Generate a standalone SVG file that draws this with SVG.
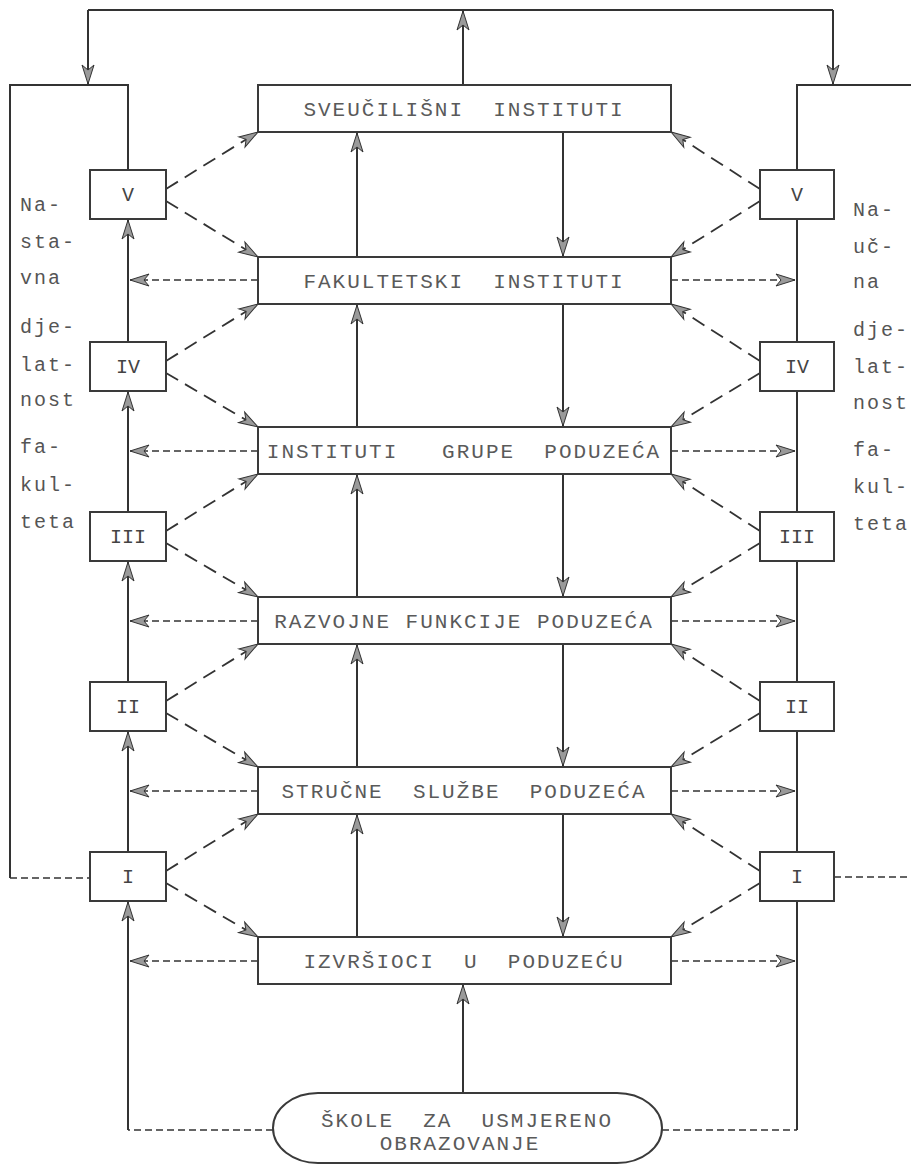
<svg xmlns="http://www.w3.org/2000/svg" width="911" height="1165" viewBox="0 0 911 1165">
<style>
.bx{fill:#fff;stroke:#3a3a3a;stroke-width:2}
.ln{fill:none;stroke:#333;stroke-width:2}
.dd{fill:none;stroke:#333;stroke-width:1.8;stroke-dasharray:14 8}
.dh{fill:none;stroke:#333;stroke-width:1.6;stroke-dasharray:7 4}
.t{font-family:"Liberation Mono","DejaVu Sans Mono",monospace;font-size:21px;letter-spacing:2px;fill:#5a5a5a;text-anchor:middle;white-space:pre}
.s{font-family:"Liberation Mono","DejaVu Sans Mono",monospace;font-size:20px;fill:#444;text-anchor:middle}
.lb{font-family:"Liberation Mono","DejaVu Sans Mono",monospace;font-size:20px;letter-spacing:2px;fill:#555}
</style>
<defs>
<marker id="ah" markerUnits="userSpaceOnUse" markerWidth="22" markerHeight="14" refX="19" refY="6.5" orient="auto" overflow="visible">
<path d="M0,0.5 L19,6.5 L0,12.5 L5,6.5 Z" fill="#9a9a9a" stroke="#333" stroke-width="1" stroke-dasharray="none"/>
</marker>
</defs>

<g id="connectors">
<path class="ln" d="M88,10 L833,10"/>
<path class="ln" d="M463,85 L463,11" marker-end="url(#ah)"/>
<path class="ln" d="M88,10 L88,84" marker-end="url(#ah)"/>
<path class="ln" d="M833,10 L833,84" marker-end="url(#ah)"/>
<path class="ln" d="M128,170 L128,85 L10,85 L10,878"/>
<path class="dh" d="M10,878 L90,878"/>
<path class="ln" d="M797,170 L797,85 L911,85"/>
<path class="dh" d="M834,877 L911,877"/>
<path class="ln" d="M128,342 L128,220" marker-end="url(#ah)"/>
<path class="ln" d="M128,512 L128,392" marker-end="url(#ah)"/>
<path class="ln" d="M128,682 L128,562" marker-end="url(#ah)"/>
<path class="ln" d="M128,852 L128,732" marker-end="url(#ah)"/>
<path class="ln" d="M128,1130 L128,902" marker-end="url(#ah)"/>
<path class="ln" d="M797,219 L797,342 M797,391 L797,512 M797,561 L797,682 M797,731 L797,852 M797,901 L797,1130"/>
<path class="dh" d="M273,1130 L128,1130"/>
<path class="dh" d="M662,1130 L797,1130"/>
<path class="ln" d="M463,1093 L463,985" marker-end="url(#ah)"/>
<path class="ln" d="M357,257 L357,133" marker-end="url(#ah)"/>
<path class="ln" d="M357,427 L357,305" marker-end="url(#ah)"/>
<path class="ln" d="M357,597 L357,475" marker-end="url(#ah)"/>
<path class="ln" d="M357,767 L357,645" marker-end="url(#ah)"/>
<path class="ln" d="M357,937 L357,815" marker-end="url(#ah)"/>
<path class="ln" d="M563,132 L563,256" marker-end="url(#ah)"/>
<path class="ln" d="M563,304 L563,426" marker-end="url(#ah)"/>
<path class="ln" d="M563,474 L563,596" marker-end="url(#ah)"/>
<path class="ln" d="M563,644 L563,766" marker-end="url(#ah)"/>
<path class="ln" d="M563,814 L563,936" marker-end="url(#ah)"/>
<path class="dh" d="M258,280 L130,280" marker-end="url(#ah)"/>
<path class="dh" d="M258,451 L130,451" marker-end="url(#ah)"/>
<path class="dh" d="M258,621 L130,621" marker-end="url(#ah)"/>
<path class="dh" d="M258,791 L130,791" marker-end="url(#ah)"/>
<path class="dh" d="M258,961 L130,961" marker-end="url(#ah)"/>
<path class="dh" d="M671,280 L795,280" marker-end="url(#ah)"/>
<path class="dh" d="M671,451 L795,451" marker-end="url(#ah)"/>
<path class="dh" d="M671,621 L795,621" marker-end="url(#ah)"/>
<path class="dh" d="M671,791 L795,791" marker-end="url(#ah)"/>
<path class="dh" d="M671,961 L795,961" marker-end="url(#ah)"/>
<path class="dd" d="M166,189 L258,132" marker-end="url(#ah)"/>
<path class="dd" d="M166,201 L258,257" marker-end="url(#ah)"/>
<path class="dd" d="M166,361 L258,304" marker-end="url(#ah)"/>
<path class="dd" d="M166,373 L258,427" marker-end="url(#ah)"/>
<path class="dd" d="M166,531 L258,474" marker-end="url(#ah)"/>
<path class="dd" d="M166,543 L258,597" marker-end="url(#ah)"/>
<path class="dd" d="M166,701 L258,644" marker-end="url(#ah)"/>
<path class="dd" d="M166,713 L258,767" marker-end="url(#ah)"/>
<path class="dd" d="M166,871 L258,814" marker-end="url(#ah)"/>
<path class="dd" d="M166,883 L258,937" marker-end="url(#ah)"/>
<path class="dd" d="M760,189 L671,132" marker-end="url(#ah)"/>
<path class="dd" d="M760,201 L671,257" marker-end="url(#ah)"/>
<path class="dd" d="M760,361 L671,304" marker-end="url(#ah)"/>
<path class="dd" d="M760,373 L671,427" marker-end="url(#ah)"/>
<path class="dd" d="M760,531 L671,474" marker-end="url(#ah)"/>
<path class="dd" d="M760,543 L671,597" marker-end="url(#ah)"/>
<path class="dd" d="M760,701 L671,644" marker-end="url(#ah)"/>
<path class="dd" d="M760,713 L671,767" marker-end="url(#ah)"/>
<path class="dd" d="M760,871 L671,814" marker-end="url(#ah)"/>
<path class="dd" d="M760,883 L671,937" marker-end="url(#ah)"/>
</g>

<g id="n-sveucilisni"><rect class="bx" x="258" y="85" width="413" height="47"/><text class="t" x="464" y="116">SVEUČILIŠNI  INSTITUTI</text></g>
<g id="n-fakultetski"><rect class="bx" x="258" y="257" width="413" height="47"/><text class="t" x="464" y="288">FAKULTETSKI  INSTITUTI</text></g>
<g id="n-grupe"><rect class="bx" x="258" y="427" width="413" height="47"/><text class="t" x="464" y="458">INSTITUTI   GRUPE  PODUZEĆA</text></g>
<g id="n-razvojne"><rect class="bx" x="258" y="597" width="413" height="47"/><text class="t" x="464" y="628">RAZVOJNE FUNKCIJE PODUZEĆA</text></g>
<g id="n-strucne"><rect class="bx" x="258" y="767" width="413" height="47"/><text class="t" x="464" y="798">STRUČNE  SLUŽBE  PODUZEĆA</text></g>
<g id="n-izvrsioci"><rect class="bx" x="258" y="937" width="413" height="47"/><text class="t" x="464" y="968">IZVRŠIOCI  U  PODUZEĆU</text></g>
<g id="n-skole"><rect class="bx" x="273" y="1093" width="389" height="70" rx="45" ry="35"/><text class="t" x="467" y="1127">ŠKOLE  ZA  USMJERENO</text><text class="t" x="460" y="1150">OBRAZOVANJE</text></g>

<g id="n-l5"><rect class="bx" x="90" y="170" width="76" height="49"/><text class="s" x="128" y="201">V</text></g>
<g id="n-l4"><rect class="bx" x="90" y="342" width="76" height="49"/><text class="s" x="128" y="373">IV</text></g>
<g id="n-l3"><rect class="bx" x="90" y="512" width="76" height="49"/><text class="s" x="128" y="543">III</text></g>
<g id="n-l2"><rect class="bx" x="90" y="682" width="76" height="49"/><text class="s" x="128" y="713">II</text></g>
<g id="n-l1"><rect class="bx" x="90" y="852" width="76" height="49"/><text class="s" x="128" y="883">I</text></g>

<g id="n-r5"><rect class="bx" x="760" y="170" width="74" height="49"/><text class="s" x="797" y="201">V</text></g>
<g id="n-r4"><rect class="bx" x="760" y="342" width="74" height="49"/><text class="s" x="797" y="373">IV</text></g>
<g id="n-r3"><rect class="bx" x="760" y="512" width="74" height="49"/><text class="s" x="797" y="543">III</text></g>
<g id="n-r2"><rect class="bx" x="760" y="682" width="74" height="49"/><text class="s" x="797" y="713">II</text></g>
<g id="n-r1"><rect class="bx" x="760" y="852" width="74" height="49"/><text class="s" x="797" y="883">I</text></g>

<g id="label-left">
<text class="lb" x="20" y="211">Na-</text>
<text class="lb" x="20" y="248">sta-</text>
<text class="lb" x="20" y="284">vna</text>
<text class="lb" x="20" y="333">dje-</text>
<text class="lb" x="20" y="371">lat-</text>
<text class="lb" x="20" y="406">nost</text>
<text class="lb" x="20" y="453">fa-</text>
<text class="lb" x="20" y="491">kul-</text>
<text class="lb" x="20" y="528">teta</text>
</g>
<g id="label-right">
<text class="lb" x="853" y="216">Na-</text>
<text class="lb" x="853" y="253">uč-</text>
<text class="lb" x="853" y="288">na</text>
<text class="lb" x="853" y="336">dje-</text>
<text class="lb" x="853" y="373">lat-</text>
<text class="lb" x="853" y="409">nost</text>
<text class="lb" x="853" y="456">fa-</text>
<text class="lb" x="853" y="493">kul-</text>
<text class="lb" x="853" y="530">teta</text>
</g>
</svg>
